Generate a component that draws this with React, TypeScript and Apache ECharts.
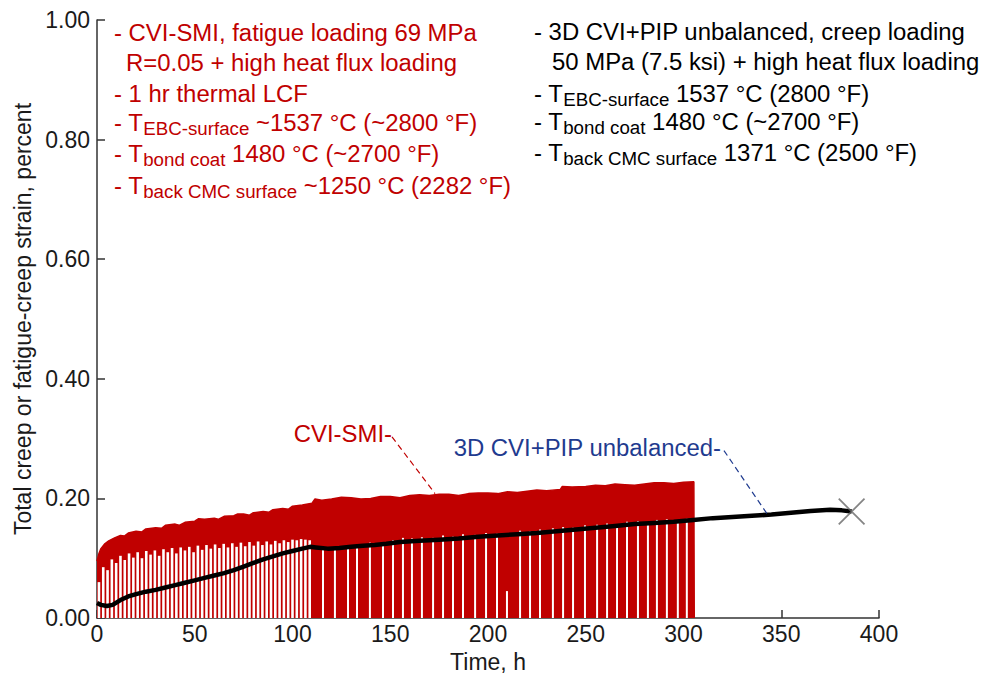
import React, { useEffect, useRef } from "react";
import * as echarts from "echarts";

// ---- data ----
// upper envelope of CVI-SMI fatigue-creep strain cycles [time h, strain %]
const fatigueEnvelope: [number, number][] = [
  [0, 0.095], [1, 0.108], [2, 0.116], [4, 0.124], [6, 0.129], [9, 0.134],
  [12, 0.138], [14, 0.137], [16, 0.142], [20, 0.145], [23, 0.144], [25, 0.149],
  [30, 0.151], [33, 0.150], [35, 0.155], [40, 0.157], [42, 0.155], [45, 0.160],
  [50, 0.162], [52, 0.166], [55, 0.165], [60, 0.167], [62, 0.165], [65, 0.170],
  [70, 0.171], [72, 0.174], [75, 0.174], [78, 0.172], [80, 0.176], [85, 0.178],
  [88, 0.177], [90, 0.181], [95, 0.183], [98, 0.182], [100, 0.187], [105, 0.189],
  [110, 0.192], [111.5, 0.199], [115, 0.197], [120, 0.199], [125, 0.202],
  [130, 0.201], [135, 0.199], [140, 0.200], [145, 0.203], [150, 0.203],
  [155, 0.201], [160, 0.205], [165, 0.206], [170, 0.205], [175, 0.207],
  [180, 0.207], [185, 0.205], [190, 0.208], [195, 0.209], [200, 0.209],
  [205, 0.208], [210, 0.211], [215, 0.210], [220, 0.212], [225, 0.214],
  [230, 0.213], [237, 0.215], [238, 0.220], [243, 0.219], [250, 0.220],
  [255, 0.222], [260, 0.221], [265, 0.224], [270, 0.223], [275, 0.222],
  [280, 0.224], [285, 0.226], [290, 0.226], [295, 0.225], [300, 0.227],
  [305.3, 0.228], [305.5, 0],
];

// white gaps (interrupted cycles) below the fatigue envelope, 0-110 h [time h, top of gap]
const earlyGaps: [number, number][] = [
  [1.0, 0.06], [3.2, 0.085], [5.4, 0.08], [7.6, 0.098], [9.8, 0.092], [12.0, 0.104],
  [14.2, 0.097], [16.4, 0.108], [18.6, 0.101], [20.8, 0.11], [23.0, 0.1],
  [25.2, 0.112], [27.4, 0.106], [29.6, 0.113], [31.8, 0.104], [34.0, 0.115],
  [36.2, 0.11], [38.4, 0.117], [40.6, 0.108], [42.8, 0.118], [45.0, 0.113],
  [47.2, 0.119], [49.4, 0.11], [51.6, 0.121], [53.8, 0.114], [56.0, 0.122],
  [58.2, 0.116], [60.4, 0.123], [62.6, 0.117], [64.8, 0.124], [67.0, 0.118],
  [69.2, 0.125], [71.4, 0.119], [73.6, 0.126], [75.8, 0.12], [78.0, 0.127],
  [80.2, 0.121], [82.4, 0.128], [84.6, 0.122], [86.8, 0.128], [89.0, 0.123],
  [91.2, 0.129], [93.4, 0.125], [95.6, 0.13], [97.8, 0.127], [100.0, 0.131],
  [102.2, 0.13], [104.4, 0.132], [106.6, 0.131], [108.8, 0.13],
];

// white gaps 110-305 h [time h, top of gap]
const lateGaps: [number, number][] = [
  [115.6, 0.12], [121.7, 0.118], [128.4, 0.122], [133.0, 0.121], [139.6, 0.126],
  [146.3, 0.125], [151.4, 0.13], [156.5, 0.134], [161.1, 0.133], [166.2, 0.135],
  [171.9, 0.134], [177.0, 0.138], [182.1, 0.136], [187.2, 0.14], [193.4, 0.139],
  [199.0, 0.142], [204.6, 0.141], [209.7, 0.045], [216.4, 0.146], [221.5, 0.145],
  [226.6, 0.148], [233.2, 0.15], [238.4, 0.152], [243.5, 0.151], [249.6, 0.155],
  [255.8, 0.156], [260.9, 0.158], [266.0, 0.157], [271.1, 0.161], [276.7, 0.162],
  [281.8, 0.16], [286.4, 0.164], [291.5, 0.165], [297.1, 0.163], [301.7, 0.166],
];

// 3D CVI+PIP unbalanced creep strain [time h, strain %]
const creepStrain: [number, number][] = [
  [0, 0.025], [2, 0.022], [5, 0.02], [8, 0.022], [12, 0.03], [16, 0.036],
  [20, 0.04], [25, 0.044], [30, 0.047], [35, 0.051], [40, 0.055], [45, 0.059],
  [50, 0.063], [55, 0.067], [60, 0.071], [65, 0.075], [70, 0.08], [75, 0.086],
  [80, 0.092], [85, 0.098], [90, 0.103], [95, 0.108], [100, 0.112], [105, 0.116],
  [109, 0.119], [112, 0.118], [118, 0.116], [124, 0.117], [130, 0.119],
  [136, 0.121], [142, 0.122], [148, 0.124], [155, 0.127], [165, 0.129],
  [175, 0.131], [185, 0.133], [195, 0.136], [205, 0.138], [215, 0.14],
  [225, 0.142], [235, 0.145], [245, 0.148], [255, 0.151], [265, 0.154],
  [275, 0.157], [285, 0.159], [295, 0.161], [305, 0.164], [315, 0.167],
  [325, 0.169], [335, 0.171], [345, 0.173], [355, 0.176], [365, 0.179],
  [375, 0.181], [381, 0.18], [386, 0.178],
];
const creepFailure: [number, number][] = [[386, 0.178]];

// dashed leader lines [time h, strain %]
const cviLeader: [number, number][] = [[150.9, 0.303], [172.9, 0.208]];
const pipLeader: [number, number][] = [[320.7, 0.28], [343.2, 0.172]];

const leftNotes = [
  "- CVI-SMI, fatigue loading 69 MPa",
  "R=0.05 + high heat flux loading",
  "- 1 hr thermal LCF",
  "- T{s|EBC-surface} ~1537 °C (~2800 °F)",
  "- T{s|bond coat} 1480 °C (~2700 °F)",
  "- T{s|back CMC surface} ~1250 °C (2282 °F)",
];
const rightNotes = [
  "- 3D CVI+PIP unbalanced, creep loading",
  "50 MPa (7.5 ksi) + high heat flux loading",
  "- T{s|EBC-surface} 1537 °C (2800 °F)",
  "- T{s|bond coat} 1480 °C (~2700 °F)",
  "- T{s|back CMC surface} 1371 °C (2500 °F)",
];
const cviLabel = "CVI-SMI-";
const pipLabel = "3D CVI+PIP unbalanced-";
const xName = "Time, h";
const yName = "Total creep or fatigue-creep strain, percent";

// ---- styles ----
const RED = "#c00000";
const BLUE = "#1f3b8f";
const INK = "#1a1a1a";
const FONT = "'Liberation Sans', Arial, Helvetica, sans-serif";
const FS = 23;
const STRETCH = 1.04;

function noteText(text: string, x: number, y: number, color: string) {
  return {
    type: "text",
    x,
    y,
    scaleX: STRETCH,
    z: 100,
    style: {
      text,
      fill: color,
      fontSize: FS,
      fontFamily: FONT,
      lineHeight: 29,
      align: "left",
      verticalAlign: "middle",
      rich: {
        s: {
          fontSize: 18,
          fontFamily: FONT,
          fill: color,
          lineHeight: 18,
          verticalAlign: "bottom",
        },
      },
    },
  };
}

function gapRender(width: number) {
  return (params: any, api: any) => {
    const top = api.coord([api.value(0), api.value(1)]);
    const base = api.coord([api.value(0), 0]);
    return {
      type: "rect",
      shape: { x: top[0] - width / 2, y: top[1], width, height: base[1] - top[1] },
      style: { fill: "#ffffff" },
    };
  };
}

export default function App() {
  const ref = useRef<HTMLDivElement>(null);
  useEffect(() => {
    if (!ref.current) return;
    const chart = echarts.init(ref.current, undefined, { renderer: "svg" });
    const leftRows = [33, 63, 94, 123, 154, 186];
    const rightRows = [32, 62, 94, 122, 153];
    const graphics: any[] = [];
    leftNotes.forEach((t, i) => graphics.push(noteText(t, i === 1 ? 126 : 114, leftRows[i], RED)));
    rightNotes.forEach((t, i) => graphics.push(noteText(t, i === 1 ? 552 : 534, rightRows[i], "#000")));
    graphics.push({
      type: "text", x: 392, y: 434, z: 100, scaleX: STRETCH,
      style: { text: cviLabel, fill: RED, fontSize: FS, fontFamily: FONT, align: "right", verticalAlign: "middle" },
    });
    graphics.push({
      type: "text", x: 721, y: 448, z: 100, scaleX: STRETCH,
      style: { text: pipLabel, fill: BLUE, fontSize: FS, fontFamily: FONT, align: "right", verticalAlign: "middle" },
    });

    chart.setOption({
      animation: false,
      backgroundColor: "#ffffff",
      grid: { left: 97, right: 105, top: 20, bottom: 58, containLabel: false },
      xAxis: {
        type: "value",
        min: 0,
        max: 400,
        interval: 50,
        name: xName,
        nameLocation: "middle",
        nameGap: 32,
        nameTextStyle: { fontSize: FS, fontFamily: FONT, color: INK },
        axisLine: { show: true, lineStyle: { color: "#333", width: 1.5 } },
        axisTick: { show: true, inside: true, length: 8, lineStyle: { color: "#333", width: 1.5 } },
        axisLabel: { fontSize: FS, fontFamily: FONT, color: INK, margin: 4 },
        splitLine: { show: false },
      },
      yAxis: {
        type: "value",
        min: 0,
        max: 1,
        interval: 0.2,
        name: yName,
        nameLocation: "middle",
        nameGap: 63,
        nameTextStyle: { fontSize: FS, fontFamily: FONT, color: INK },
        axisLine: { show: true, lineStyle: { color: "#333", width: 1.5 } },
        axisTick: { show: true, inside: true, length: 8, lineStyle: { color: "#333", width: 1.5 } },
        axisLabel: {
          fontSize: FS, fontFamily: FONT, color: INK, margin: 7,
          formatter: (v: number) => v.toFixed(2),
        },
        splitLine: { show: false },
      },
      graphic: graphics,
      series: [
        {
          type: "line",
          data: fatigueEnvelope,
          symbol: "none",
          z: 2,
          lineStyle: { color: RED, width: 1.5 },
          areaStyle: { color: RED, opacity: 1 },
          silent: true,
        },
        {
          type: "custom",
          data: earlyGaps,
          renderItem: gapRender(2.6),
          z: 3,
          silent: true,
        },
        {
          type: "custom",
          data: lateGaps,
          renderItem: gapRender(2),
          z: 3,
          silent: true,
        },
        {
          type: "line",
          data: creepStrain,
          symbol: "none",
          z: 5,
          lineStyle: { color: "#000", width: 4.5 },
          silent: true,
        },
        {
          type: "scatter",
          data: creepFailure,
          z: 6,
          symbol: "path://M0,1.2L1.2,0L26,24.8L24.8,26Z M24.8,0L26,1.2L1.2,26L0,24.8Z",
          symbolSize: 27,
          itemStyle: { color: "#666" },
          silent: true,
        },
        {
          type: "line",
          data: cviLeader,
          symbol: "none",
          z: 6,
          lineStyle: { color: RED, width: 1.2, type: [6, 4] },
          silent: true,
        },
        {
          type: "line",
          data: pipLeader,
          symbol: "none",
          z: 6,
          lineStyle: { color: BLUE, width: 1.2, type: [6, 4] },
          silent: true,
        },
      ],
    });
    return () => chart.dispose();
  }, []);
  return <div ref={ref} style={{ width: 984, height: 678, position: "absolute", left: 0, top: 0 }} />;
}
